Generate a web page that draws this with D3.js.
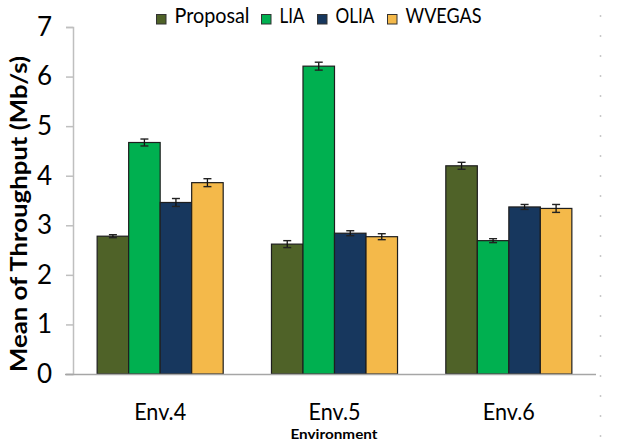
<!DOCTYPE html>
<html>
<head>
<meta charset="utf-8">
<script src="https://cdn.jsdelivr.net/npm/d3@7"></script>
<style>
  html, body { margin: 0; padding: 0; background: #fff; }
  svg { display: block; }
  text { font-family: Lato, "Open Sans", sans-serif; fill: #000; }
</style>
</head>
<body>
<svg id="chart" width="617" height="445"></svg>
<script>
// Mean throughput (Mb/s) per environment, with error-bar half widths
const environments = ["Env.4", "Env.5", "Env.6"];
const seriesNames = ["Proposal", "LIA", "OLIA", "WVEGAS"];
const seriesColors = ["#4F6228", "#00B050", "#17375E", "#F4B94A"];
const proposal = [2.78, 2.62, 4.20];
const lia      = [4.67, 6.21, 2.69];
const olia     = [3.46, 2.84, 3.37];
const wvegas   = [3.86, 2.77, 3.34];
const proposalErr = [0.03, 0.07, 0.07];
const liaErr      = [0.07, 0.08, 0.04];
const oliaErr     = [0.08, 0.05, 0.05];
const wvegasErr   = [0.08, 0.06, 0.08];
const yTicks = [0, 1, 2, 3, 4, 5, 6, 7];

const values = [proposal, lia, olia, wvegas];
const errors = [proposalErr, liaErr, oliaErr, wvegasErr];

const rows = environments.map((env, i) => ({
  env,
  bars: seriesNames.map((s, j) => ({ series: s, value: values[j][i], err: errors[j][i], color: seriesColors[j] }))
}));

const svg = d3.select("#chart");
const plotLeft = 73, plotRight = 596, plotTop = 27, plotBottom = 374;

const x0 = d3.scaleBand().domain(environments).range([plotLeft, plotRight])
  .paddingInner(0.277).paddingOuter(0.1385);
const x1 = d3.scaleBand().domain(seriesNames).range([0, x0.bandwidth()]);
const y = d3.scaleLinear().domain([0, 7]).range([plotBottom, plotTop]);

// faint dotted frame line on the right
svg.append("line")
  .attr("x1", 600.5).attr("x2", 600.5).attr("y1", 15).attr("y2", 440)
  .attr("stroke", "#c8c8c8").attr("stroke-width", 1.5)
  .attr("stroke-dasharray", "2,18");

// y axis
const yAxis = svg.append("g").attr("transform", `translate(${plotLeft},0)`)
  .call(d3.axisLeft(y).tickValues(yTicks).tickSize(7).tickPadding(14).tickFormat(d3.format("d")));
yAxis.select(".domain").attr("stroke", "#bfbfbf").attr("stroke-width", 1.5);
yAxis.selectAll(".tick line").attr("stroke", "#bfbfbf").attr("stroke-width", 1.5);
yAxis.selectAll(".tick text").attr("font-size", 26).attr("font-family", "Lato, sans-serif")
  .attr("fill", "#000");

// bars
const groups = svg.append("g").selectAll("g").data(rows).join("g")
  .attr("transform", d => `translate(${x0(d.env)},0)`);

groups.selectAll("rect").data(d => d.bars).join("rect")
  .attr("x", d => x1(d.series))
  .attr("y", d => y(d.value))
  .attr("width", x1.bandwidth())
  .attr("height", d => y(0) - y(d.value))
  .attr("fill", d => d.color)
  .attr("stroke", "#1e1e1e")
  .attr("stroke-width", 1.2);

// error bars
const eb = groups.selectAll("g.err").data(d => d.bars).join("g").attr("class", "err");
eb.append("line")
  .attr("x1", d => x1(d.series) + x1.bandwidth() / 2)
  .attr("x2", d => x1(d.series) + x1.bandwidth() / 2)
  .attr("y1", d => y(d.value + d.err)).attr("y2", d => y(d.value - d.err))
  .attr("stroke", "#111").attr("stroke-width", 1.3);
eb.selectAll("line.cap").data(d => [
    { b: d, v: d.value + d.err }, { b: d, v: d.value - d.err }
  ]).join("line").attr("class", "cap")
  .attr("x1", d => x1(d.b.series) + x1.bandwidth() / 2 - 4)
  .attr("x2", d => x1(d.b.series) + x1.bandwidth() / 2 + 4)
  .attr("y1", d => y(d.v)).attr("y2", d => y(d.v))
  .attr("stroke", "#222").attr("stroke-width", 1.4);

// x axis
const xAxis = svg.append("g").attr("transform", `translate(0,${plotBottom})`)
  .call(d3.axisBottom(x0).tickSize(0));
xAxis.select(".domain").attr("stroke", "#a6a6a6").attr("stroke-width", 1.5)
  .attr("d", `M${plotLeft - 8},0.5H${plotRight}`);
xAxis.selectAll(".tick text")
  .attr("y", 45.5).attr("dy", null)
  .attr("font-size", 24).attr("font-family", "Lato, sans-serif")
  .attr("fill", "#000").attr("textLength", 52).attr("lengthAdjust", "spacingAndGlyphs");

// axis titles
svg.append("text")
  .attr("x", 334).attr("y", 438.5)
  .attr("text-anchor", "middle").attr("font-size", 14).attr("font-weight", 700)
  .attr("textLength", 87).attr("lengthAdjust", "spacingAndGlyphs")
  .text("Environment");

svg.append("text")
  .attr("transform", "translate(27,214) rotate(-90)")
  .attr("text-anchor", "middle").attr("font-size", 22).attr("font-weight", 700)
  .attr("textLength", 316).attr("lengthAdjust", "spacingAndGlyphs")
  .text("Mean of Throughput (Mb/s)");

// legend
const legendX = [156, 261, 317, 387];
const legendW = [75, 25, 39, 76];
const legend = svg.append("g").selectAll("g").data(seriesNames).join("g")
  .attr("transform", (d, i) => `translate(${legendX[i]},0)`);
legend.append("rect")
  .attr("x", 0.5).attr("y", 14.5).attr("width", 9.5).attr("height", 9.5)
  .attr("fill", (d, i) => seriesColors[i]).attr("stroke", "#333").attr("stroke-width", 1);
legend.append("text")
  .attr("x", 18.5).attr("y", 22.7)
  .attr("font-size", 21)
  .attr("textLength", (d, i) => legendW[i]).attr("lengthAdjust", "spacingAndGlyphs")
  .text(d => d);
</script>
</body>
</html>
